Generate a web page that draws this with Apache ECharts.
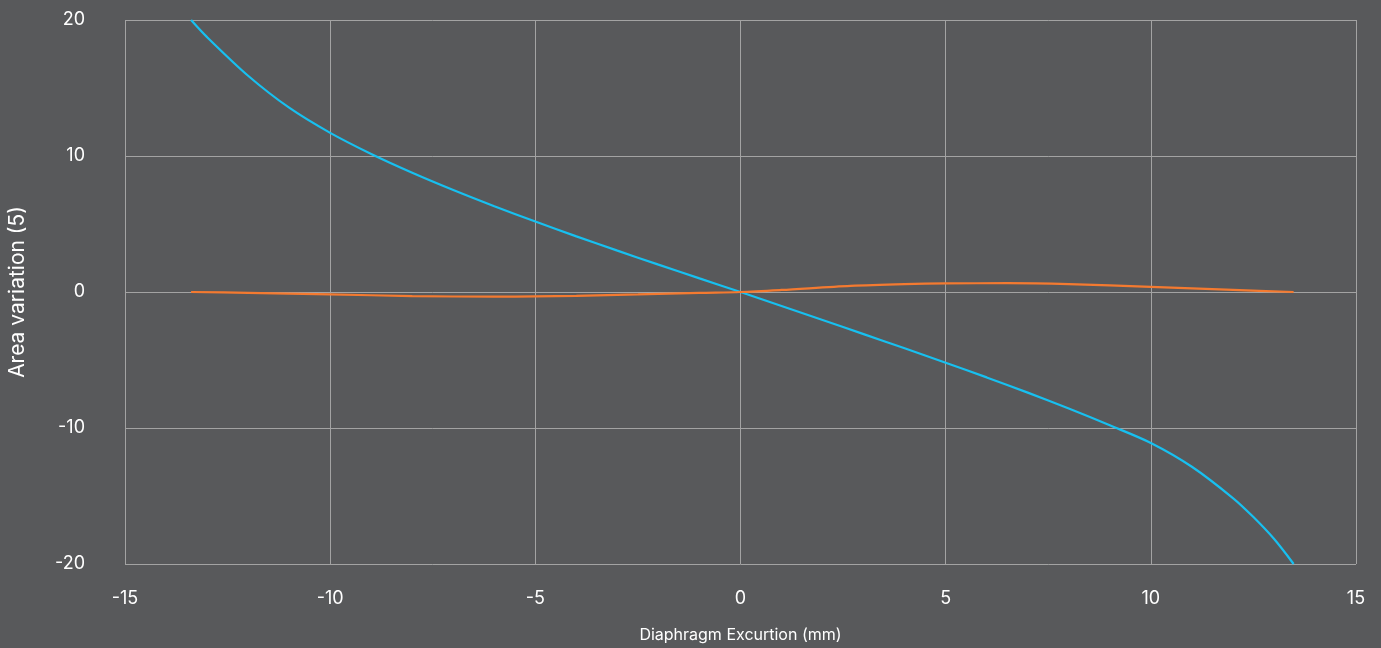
<!DOCTYPE html>
<html>
<head>
<meta charset="utf-8">
<script src="https://cdn.jsdelivr.net/npm/echarts@6/dist/echarts.min.js"></script>
<style>
html,body{margin:0;padding:0;background:#58595b;}
#chart{width:1381px;height:648px;}
</style>
</head>
<body>
<div id="chart"></div>
<script>
const blueX = [-13.39, -13, -12, -11, -10, -9, -8, -7, -6, -5, -4, -3, -2, -1, 0, 1, 2, 3, 4, 5, 6, 7, 8, 9, 10, 11, 12, 12.5, 13, 13.48];
const blueY = [20, 18.74, 15.9, 13.55, 11.7, 10.15, 8.77, 7.5, 6.31, 5.18, 4.09, 3.04, 2.01, 1.0, 0, -1.03, -2.06, -3.1, -4.14, -5.2, -6.28, -7.4, -8.57, -9.8, -11.1, -12.85, -15.15, -16.55, -18.15, -20];
const orangeX = [-13.39, -12, -10, -8, -6, -5, -4, -2.5, -1, 0, 1, 2.68, 4, 5, 6.5, 8, 10, 12, 13.48];
const orangeY = [0, -0.06, -0.17, -0.3, -0.34, -0.32, -0.28, -0.18, -0.06, 0, 0.15, 0.45, 0.58, 0.63, 0.65, 0.58, 0.37, 0.15, 0];
const xTitle = 'Diaphragm Excurtion (mm)';
const yTitle = 'Area variation (5)';

const pair = (xs, ys) => xs.map((x, i) => [x, ys[i]]);
const font = 'Inter, "Noto Sans", sans-serif';
const chart = echarts.init(document.getElementById('chart'), null, {renderer: 'canvas'});
chart.setOption({
  backgroundColor: '#58595b',
  animation: false,
  grid: {left: 125, right: 25, top: 20, bottom: 84, show: false, containLabel: false, outerBoundsMode: 'none'},
  xAxis: {
    type: 'value', min: -15, max: 15, interval: 5,
    name: xTitle, nameLocation: 'middle', nameGap: 63,
    nameTextStyle: {color: '#ffffff', fontSize: 16, fontFamily: font},
    axisLine: {show: false}, axisTick: {show: false},
    axisLabel: {color: '#ffffff', fontSize: 18, fontFamily: font, margin: 26},
    splitLine: {show: true, lineStyle: {color: '#a3a3a3', width: 1}}
  },
  yAxis: {
    type: 'value', min: -20, max: 20, interval: 10,
    name: yTitle, nameLocation: 'middle', nameGap: 97,
    nameTextStyle: {color: '#ffffff', fontSize: 21, fontFamily: font},
    axisLine: {show: false}, axisTick: {show: false},
    axisLabel: {color: '#ffffff', fontSize: 18, fontFamily: font, margin: 40},
    splitLine: {show: true, lineStyle: {color: '#a3a3a3', width: 1}}
  },
  series: [
    {type: 'line', data: pair(blueX, blueY), smooth: 0.3, showSymbol: false,
     lineStyle: {color: '#17c0f0', width: 2.2}},
    {type: 'line', data: pair(orangeX, orangeY), smooth: 0.3, showSymbol: false,
     lineStyle: {color: '#f47a30', width: 2.2}}
  ]
});
</script>
</body>
</html>
